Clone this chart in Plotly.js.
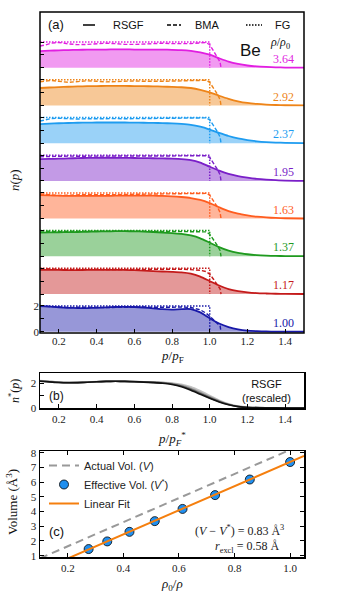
<!DOCTYPE html>
<html>
<head>
<meta charset="utf-8">
<script src="https://cdn.plot.ly/plotly-3.0.1.min.js"></script>
<style>
  html, body { margin: 0; padding: 0; background: #ffffff; }
  #plot-container { width: 338px; height: 600px; }
</style>
</head>
<body>
<div id="plot-container"></div>
<script>
// densities rho/rho0, bottom band first
const densityLabels = ['1.00', '1.17', '1.37', '1.63', '1.95', '2.37', '2.92', '3.64'];
const bandColors = ['#1818a8', '#c41a1a', '#1f9a1f', '#ff5c1e', '#7a1fc8', '#1e9cf0', '#ee8418', '#e11ee1'];

// momentum grid p/pF for the RSGF curves
const pGrid = [0.1, 0.15, 0.2, 0.25, 0.3, 0.35, 0.4, 0.45, 0.5, 0.55, 0.6, 0.65, 0.7, 0.75,
               0.8, 0.85, 0.9, 0.95, 1.0, 1.05, 1.1, 1.15, 1.2, 1.25, 1.3, 1.35, 1.4, 1.5];

const rsgf100 = [2.00, 1.95, 1.90, 1.86, 1.84, 1.84, 1.86, 1.89, 1.92, 1.93, 1.92, 1.88, 1.82, 1.75, 1.72, 1.76, 1.76, 1.50, 1.05, 0.64, 0.36, 0.18, 0.08, 0.04, 0.02, 0.01, 0.00, 0.00];
const rsgf117 = [1.88, 1.88, 1.87, 1.86, 1.86, 1.87, 1.88, 1.88, 1.88, 1.87, 1.85, 1.82, 1.78, 1.75, 1.72, 1.68, 1.58, 1.35, 1.00, 0.66, 0.38, 0.22, 0.13, 0.07, 0.04, 0.02, 0.01, 0.00];
const rsgf137 = [1.84, 1.86, 1.87, 1.88, 1.89, 1.91, 1.93, 1.94, 1.95, 1.95, 1.94, 1.92, 1.89, 1.85, 1.80, 1.75, 1.62, 1.40, 1.06, 0.72, 0.44, 0.26, 0.16, 0.09, 0.05, 0.03, 0.02, 0.01];
const rsgf163 = [1.82, 1.80, 1.78, 1.77, 1.76, 1.76, 1.76, 1.77, 1.78, 1.79, 1.79, 1.79, 1.78, 1.76, 1.73, 1.68, 1.60, 1.45, 1.20, 0.88, 0.58, 0.38, 0.25, 0.15, 0.09, 0.05, 0.03, 0.01];
const rsgf195 = [1.70, 1.71, 1.73, 1.75, 1.77, 1.79, 1.80, 1.80, 1.80, 1.79, 1.78, 1.77, 1.76, 1.75, 1.73, 1.70, 1.62, 1.42, 1.10, 0.80, 0.55, 0.38, 0.26, 0.16, 0.10, 0.06, 0.03, 0.01];
const rsgf237 = [1.48, 1.52, 1.55, 1.57, 1.59, 1.60, 1.61, 1.61, 1.61, 1.61, 1.60, 1.59, 1.58, 1.56, 1.54, 1.50, 1.43, 1.28, 1.06, 0.80, 0.56, 0.37, 0.24, 0.15, 0.09, 0.05, 0.03, 0.01];
const rsgf292 = [1.36, 1.40, 1.43, 1.46, 1.48, 1.50, 1.51, 1.52, 1.52, 1.52, 1.51, 1.50, 1.49, 1.47, 1.45, 1.42, 1.36, 1.22, 1.02, 0.76, 0.52, 0.33, 0.20, 0.12, 0.07, 0.04, 0.02, 0.01];
const rsgf364 = [1.30, 1.33, 1.36, 1.38, 1.40, 1.41, 1.42, 1.42, 1.43, 1.43, 1.42, 1.42, 1.41, 1.41, 1.40, 1.38, 1.32, 1.20, 1.02, 0.74, 0.48, 0.30, 0.18, 0.11, 0.07, 0.04, 0.02, 0.01];

// BMA curves (dashed)
const bGrid = [0.1, 0.13, 0.16, 0.2, 0.25, 0.3, 0.35, 0.4, 0.45, 0.5, 0.55, 0.6, 0.65, 0.7,
               0.75, 0.8, 0.85, 0.9, 0.95, 0.98, 1.0, 1.02, 1.04, 1.055, 1.06];
const bma100 = [2.00, 1.97, 1.94, 1.90, 1.88, 1.90, 1.92, 1.90, 1.88, 1.90, 1.93, 1.94, 1.92, 1.90, 1.88, 1.90, 1.92, 1.88, 1.70, 1.45, 1.20, 0.95, 0.70, 0.45, 0.00];
const bma117 = [1.98, 1.96, 1.94, 1.92, 1.90, 1.91, 1.93, 1.92, 1.90, 1.91, 1.93, 1.94, 1.93, 1.92, 1.92, 1.93, 1.93, 1.90, 1.85, 1.75, 1.55, 1.15, 0.75, 0.40, 0.00];
const bma137 = [1.96, 1.94, 1.92, 1.93, 1.95, 1.96, 1.96, 1.95, 1.94, 1.95, 1.96, 1.96, 1.95, 1.95, 1.95, 1.96, 1.96, 1.95, 1.93, 1.90, 1.72, 1.30, 0.85, 0.45, 0.00];
const bma163 = [1.92, 1.88, 1.82, 1.80, 1.82, 1.86, 1.88, 1.86, 1.84, 1.86, 1.88, 1.89, 1.88, 1.87, 1.88, 1.90, 1.92, 1.93, 1.95, 1.96, 1.82, 1.38, 0.92, 0.48, 0.00];
const bma195 = [1.88, 1.90, 1.93, 1.94, 1.93, 1.92, 1.93, 1.94, 1.94, 1.93, 1.93, 1.94, 1.94, 1.93, 1.93, 1.94, 1.95, 1.95, 1.96, 1.96, 1.82, 1.38, 0.92, 0.48, 0.00];
const bma237 = [1.72, 1.85, 1.92, 1.94, 1.90, 1.88, 1.90, 1.92, 1.92, 1.91, 1.90, 1.91, 1.92, 1.92, 1.91, 1.92, 1.93, 1.94, 1.96, 1.97, 1.82, 1.38, 0.92, 0.48, 0.00];
const bma292 = [1.85, 1.92, 1.95, 1.88, 1.80, 1.86, 1.92, 1.88, 1.84, 1.86, 1.90, 1.91, 1.88, 1.86, 1.88, 1.90, 1.92, 1.93, 1.96, 1.96, 1.80, 1.35, 0.90, 0.45, 0.00];
const bma364 = [1.70, 1.78, 1.92, 1.97, 1.86, 1.80, 1.82, 1.87, 1.91, 1.88, 1.82, 1.82, 1.86, 1.90, 1.91, 1.88, 1.86, 1.88, 1.94, 1.96, 1.80, 1.30, 0.85, 0.45, 0.00];

// free gas step (dotted)
const fgX = [0.1, 1.0, 1.0];
const fgY = [2, 2, 0];

// panel (b): rescaled RSGF curves
const sGrid = [0.1, 0.15, 0.2, 0.25, 0.3, 0.35, 0.4, 0.45, 0.5, 0.55, 0.6, 0.65, 0.7, 0.75,
               0.8, 0.85, 0.9, 0.95, 1.0, 1.05, 1.1, 1.15, 1.2, 1.3, 1.4, 1.5];
const rescaledA = [2.20, 2.13, 2.07, 2.04, 2.04, 2.07, 2.11, 2.14, 2.15, 2.14, 2.12, 2.10, 2.08, 2.05, 2.00, 1.90, 1.70, 1.38, 1.00, 0.62, 0.33, 0.15, 0.06, 0.01, 0.00, 0.00];
const rescaledB = [2.18, 2.12, 2.06, 2.03, 2.03, 2.06, 2.10, 2.13, 2.14, 2.13, 2.11, 2.09, 2.07, 2.03, 1.96, 1.82, 1.58, 1.26, 0.90, 0.56, 0.30, 0.13, 0.05, 0.01, 0.00, 0.00];
const rescaledC = [2.16, 2.10, 2.05, 2.03, 2.03, 2.06, 2.10, 2.13, 2.14, 2.13, 2.11, 2.08, 2.05, 2.00, 1.92, 1.76, 1.50, 1.16, 0.83, 0.52, 0.28, 0.12, 0.05, 0.01, 0.00, 0.00];
const rescaledD = [2.14, 2.09, 2.04, 2.02, 2.03, 2.06, 2.10, 2.13, 2.14, 2.13, 2.10, 2.07, 2.03, 1.98, 1.88, 1.70, 1.42, 1.10, 0.78, 0.48, 0.26, 0.11, 0.04, 0.01, 0.00, 0.00];
const rescaledShades = ['#c4c4c4', '#9a9a9a', '#5a5a5a', '#111111'];

// panel (c): volumes
const rho0OverRho = [0.275, 0.342, 0.422, 0.513, 0.613, 0.730, 0.855, 1.0];
const effectiveVol = [1.45, 1.97, 2.62, 3.35, 4.18, 5.12, 6.18, 7.37];
const lineX = [0.1, 1.05];
const actualVol = [0.82, 8.61];
const fitVol = [-0.01, 7.78];

const sans = 'Liberation Sans, Arial, sans-serif';
const serif = 'Liberation Serif, Times New Roman, serif';
const bmaDash = '4px,2px';
const fgDash = '1.5px,1.5px';

document.addEventListener('DOMContentLoaded', () => {
    renderPlot();
});

function hexToRgba(hex, a) {
    const r = parseInt(hex.slice(1, 3), 16);
    const g = parseInt(hex.slice(3, 5), 16);
    const b = parseInt(hex.slice(5, 7), 16);
    return 'rgba(' + r + ',' + g + ',' + b + ',' + a + ')';
}

// pixel helpers (plot area: x 40..304, y 12..557)
function px(x) { return (x - 40) / 264; }
function py(y) { return (557 - y) / 545; }

function renderPlot() {
    const container = document.getElementById('plot-container');
    if (!container) return;

    const rsgf = [rsgf100, rsgf117, rsgf137, rsgf163, rsgf195, rsgf237, rsgf292, rsgf364];
    const bma = [bma100, bma117, bma137, bma163, bma195, bma237, bma292, bma364];

    const traces = [];
    const layout = {
        width: 338,
        height: 600,
        margin: { l: 40, r: 34, t: 12, b: 43 },
        paper_bgcolor: '#ffffff',
        plot_bgcolor: '#ffffff',
        font: { family: serif, size: 11, color: '#222222' },
        showlegend: true,
        annotations: [],
        shapes: []
    };

    const bandH = 37.7;
    for (let i = 0; i < 8; i++) {
        const yName = i === 0 ? 'y' : 'y' + (i + 1);
        const axKey = i === 0 ? 'yaxis' : 'yaxis' + (i + 1);
        const color = bandColors[i];
        const bottom = 333 - bandH * i;
        const top = bottom - bandH;

        traces.push({
            x: pGrid, y: rsgf[i], xaxis: 'x', yaxis: yName,
            type: 'scatter', mode: 'lines', showlegend: false,
            line: { color: color, width: 1.8, shape: 'spline', smoothing: 0.6 },
            fill: 'tozeroy', fillcolor: hexToRgba(color, 0.45),
            hoverinfo: 'skip'
        });
        traces.push({
            x: bGrid, y: bma[i], xaxis: 'x', yaxis: yName,
            type: 'scatter', mode: 'lines', showlegend: false,
            line: { color: color, width: 1.4, dash: bmaDash },
            hoverinfo: 'skip'
        });
        traces.push({
            x: fgX, y: fgY, xaxis: 'x', yaxis: yName,
            type: 'scatter', mode: 'lines', showlegend: false,
            line: { color: color, width: 1.5, dash: fgDash },
            hoverinfo: 'skip'
        });

        layout[axKey] = {
            domain: [py(bottom), py(top)],
            range: [-0.1, 2.83],
            anchor: 'x',
            tickvals: [0, 1, 2],
            ticktext: i === 0 ? ['0', '', '2'] : ['', '', ''],
            ticks: 'inside', ticklen: 4, tickcolor: '#000',
            showticklabels: i === 0,
            showgrid: false, zeroline: false, showline: false,
            fixedrange: true
        };

        layout.annotations.push({
            xref: 'x', yref: yName, x: 1.46, y: 0.7,
            xanchor: 'right', yanchor: 'middle', showarrow: false,
            text: densityLabels[i],
            font: { family: serif, size: 12, color: color }
        });
    }

    layout.xaxis = {
        domain: [0, 1], range: [0.1, 1.5], anchor: 'y',
        tickvals: [0.2, 0.4, 0.6, 0.8, 1.0, 1.2, 1.4],
        ticktext: ['0.2', '0.4', '0.6', '0.8', '1.0', '1.2', '1.4'],
        ticks: 'inside', ticklen: 4, tickcolor: '#000',
        showgrid: false, zeroline: false, showline: false, fixedrange: true
    };

    // panel (b)
    const rescaled = [rescaledA, rescaledB, rescaledC, rescaledD];
    for (let k = 0; k < rescaled.length; k++) {
        traces.push({
            x: sGrid, y: rescaled[k], xaxis: 'x2', yaxis: 'y9',
            type: 'scatter', mode: 'lines', showlegend: false,
            line: { color: rescaledShades[k], width: 1.7, shape: 'spline', smoothing: 0.6 },
            hoverinfo: 'skip'
        });
    }
    layout.xaxis2 = {
        domain: [0, 1], range: [0.1, 1.5], anchor: 'y9',
        tickvals: [0.2, 0.4, 0.6, 0.8, 1.0, 1.2, 1.4],
        ticktext: ['0.2', '0.4', '0.6', '0.8', '1.0', '1.2', '1.4'],
        ticks: 'inside', ticklen: 4, tickcolor: '#000',
        showline: true, mirror: true, linecolor: '#000', linewidth: 1.5,
        showgrid: false, zeroline: false, fixedrange: true
    };
    layout.yaxis9 = {
        domain: [py(408), py(373)], range: [0, 2.8], anchor: 'x2',
        tickvals: [0, 1, 2], ticktext: ['0', '', '2'],
        ticks: 'inside', ticklen: 4, tickcolor: '#000',
        showline: true, mirror: true, linecolor: '#000', linewidth: 1.5,
        showgrid: false, zeroline: false, fixedrange: true
    };

    // panel (c)
    traces.push({
        x: lineX, y: actualVol, xaxis: 'x3', yaxis: 'y10',
        type: 'scatter', mode: 'lines', legend: 'legend2',
        name: 'Actual Vol. (<i>V</i>)',
        line: { color: '#999999', width: 2, dash: '8px,5px' }
    });
    traces.push({
        x: rho0OverRho, y: effectiveVol, xaxis: 'x3', yaxis: 'y10',
        type: 'scatter', mode: 'markers', legend: 'legend2',
        name: 'Effective Vol. (<i>V</i><sup>*</sup>)',
        marker: { color: '#1f8ff0', size: 9, line: { color: '#000', width: 0.8 } }
    });
    traces.push({
        x: lineX, y: fitVol, xaxis: 'x3', yaxis: 'y10',
        type: 'scatter', mode: 'lines', legend: 'legend2',
        name: 'Linear Fit',
        line: { color: '#f57f0e', width: 2 }
    });
    layout.xaxis3 = {
        domain: [0, 1], range: [0.1, 1.05], anchor: 'y10',
        tickvals: [0.2, 0.4, 0.6, 0.8, 1.0],
        ticktext: ['0.2', '0.4', '0.6', '0.8', '1.0'],
        ticks: 'inside', ticklen: 4, tickcolor: '#000',
        showline: true, mirror: 'ticks', linecolor: '#000', linewidth: 1.5,
        showgrid: false, zeroline: false, fixedrange: true
    };
    layout.yaxis10 = {
        domain: [0, py(451)], range: [0.91, 8.12], anchor: 'x3',
        tickvals: [1, 2, 3, 4, 5, 6, 7, 8],
        ticks: 'inside', ticklen: 4, tickcolor: '#000',
        showline: true, mirror: 'ticks', linecolor: '#000', linewidth: 1.5,
        showgrid: false, zeroline: false, fixedrange: true
    };
    layout.legend = { visible: false };
    layout.legend2 = {
        x: px(44), y: py(451), xanchor: 'left', yanchor: 'top',
        bgcolor: 'rgba(0,0,0,0)', borderwidth: 0,
        font: { family: sans, size: 11, color: '#222' },
        itemwidth: 30, tracegroupgap: 0
    };

    // frame of panel (a)
    layout.shapes.push({
        type: 'rect', xref: 'paper', yref: 'paper',
        x0: 0, x1: 1, y0: py(333), y1: py(12),
        line: { color: '#000', width: 1.5 }, layer: 'above'
    });

    // legend of panel (a): line samples
    const legY = py(25);
    const samples = [[83, 95, 'solid'], [167, 181, bmaDash], [246, 262, fgDash]];
    samples.forEach(s => {
        layout.shapes.push({
            type: 'line', xref: 'paper', yref: 'paper',
            x0: px(s[0]), x1: px(s[1]), y0: legY, y1: legY,
            line: { color: '#000', width: 1.5, dash: s[2] }
        });
    });

    const txt = (x, y, text, opts) => Object.assign({
        xref: 'paper', yref: 'paper', x: x, y: y, text: text,
        showarrow: false, xanchor: 'left', yanchor: 'middle'
    }, opts);

    layout.annotations.push(
        txt(px(46), legY, '(a)', { font: { family: sans, size: 13, color: '#111' } }),
        txt(px(111), legY, 'RSGF', { font: { family: sans, size: 11, color: '#111' } }),
        txt(px(193), legY, 'BMA', { font: { family: sans, size: 11, color: '#111' } }),
        txt(px(273), legY, 'FG', { font: { family: sans, size: 11, color: '#111' } }),
        txt(px(238), py(51), 'Be', { font: { family: sans, size: 17, color: '#111' } }),
        txt(px(268), py(43), '<i>ρ</i>/<i>ρ</i><sub>0</sub>', { font: { family: serif, size: 12, color: '#111' } }),
        txt(px(14), py(180), '<i>n</i>(<i>p</i>)', { xanchor: 'center', textangle: -90, font: { family: serif, size: 13, color: '#111' } }),
        txt(0.5, py(356), '<i>p</i>/<i>p</i><sub>F</sub>', { xanchor: 'center', font: { family: serif, size: 13, color: '#111' } }),
        txt(px(14), py(391), '<i>n</i><sup>*</sup>(<i>p</i>)', { xanchor: 'center', textangle: -90, font: { family: serif, size: 12, color: '#111' } }),
        txt(px(47), py(396), '(b)', { font: { family: sans, size: 12, color: '#111' } }),
        txt(px(266), py(391), 'RSGF<br>(rescaled)', { xanchor: 'center', font: { family: sans, size: 11, color: '#111' } }),
        txt(0.5, py(439), '<i>p</i>/<i>p</i><sub><i>F</i></sub><sup>*</sup>', { xanchor: 'center', font: { family: serif, size: 13, color: '#111' } }),
        txt(px(12), py(502), 'Volume (Å<sup>3</sup>)', { xanchor: 'center', textangle: -90, font: { family: serif, size: 13, color: '#111' } }),
        txt(px(47), py(531), '(c)', { font: { family: sans, size: 13, color: '#111' } }),
        txt(px(286), py(530), '(<i>V</i> − <i>V</i><sup>*</sup>) = 0.83 Å<sup>3</sup>', { xanchor: 'right', font: { family: serif, size: 12, color: '#222' } }),
        txt(px(281), py(547), '<i>r</i><sub>excl</sub> = 0.58 Å', { xanchor: 'right', font: { family: serif, size: 12, color: '#222' } }),
        txt(0.5, py(584), '<i>ρ</i><sub>0</sub>/<i>ρ</i>', { xanchor: 'center', font: { family: serif, size: 13, color: '#111' } })
    );

    Plotly.newPlot(container, traces, layout, { displayModeBar: false, staticPlot: true });
}
</script>
</body>
</html>
